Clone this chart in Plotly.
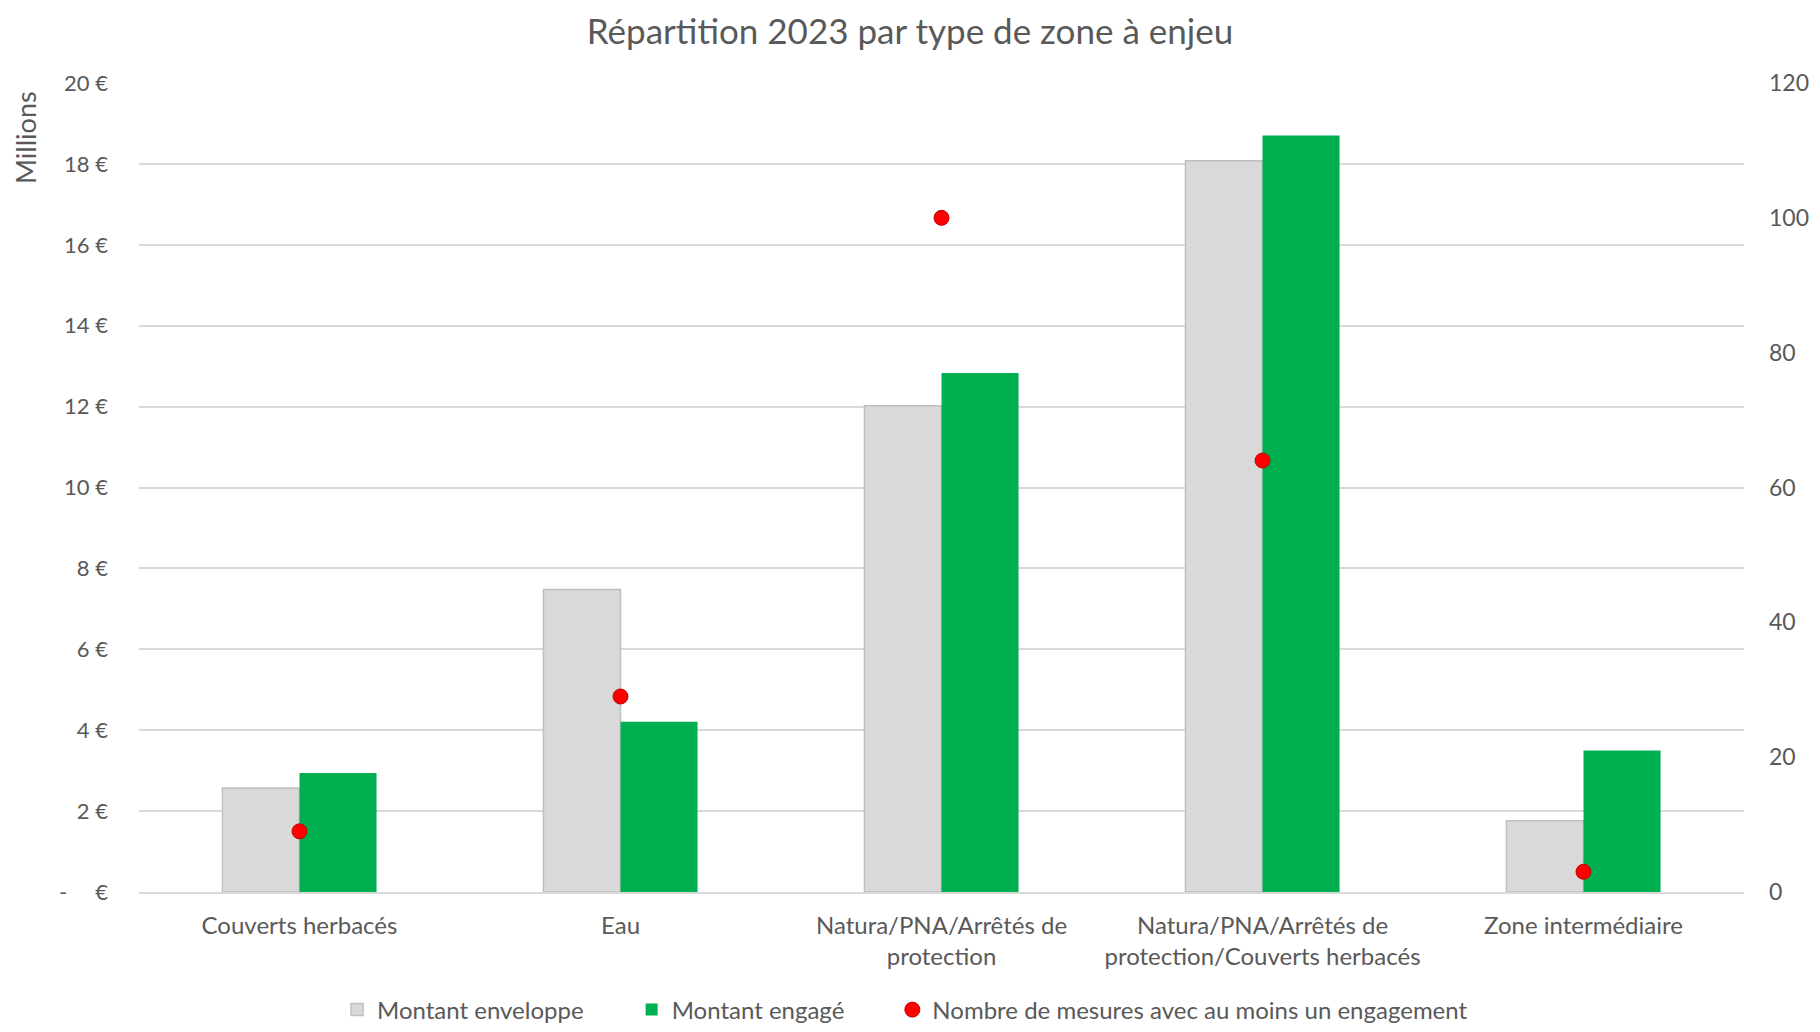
import plotly.graph_objects as go

categories = ["Couverts herbacés", "Eau", "Natura/PNA/Arrêtés de protection",
              "Natura/PNA/Arrêtés de protection/Couverts herbacés", "Zone intermédiaire"]
category_labels = ["Couverts herbacés", "Eau", "Natura/PNA/Arrêtés de<br>protection",
                   "Natura/PNA/Arrêtés de<br>protection/Couverts herbacés", "Zone intermédiaire"]
montant_enveloppe = [2.57, 7.48, 12.02, 18.08, 1.76]   # millions €
montant_engage = [2.94, 4.21, 12.83, 18.70, 3.50]      # millions €
nombre_mesures = [9, 29, 100, 64, 3]
series_names = ["Montant enveloppe", "Montant engagé",
                "Nombre de mesures avec au moins un engagement"]

left_tickvals = [0, 2, 4, 6, 8, 10, 12, 14, 16, 18, 20]
left_ticktext = ["-\u00a0\u00a0\u00a0\u00a0 €"] + [f"{v} €" for v in left_tickvals[1:]]
right_tickvals = [0, 20, 40, 60, 80, 100, 120]

FONT = "Lato"
TXT = "#595959"
OFF = 8  # default page body margin
W, H = 1820 - 2 * OFF, 1032 - 2 * OFF
ML, MT = 139 - OFF, 83 - OFF
MR = W - (1744 - OFF)
MB = H - (892 - OFF)
PAD = "\u00a0" * 7

fig = go.Figure()
fig.add_trace(go.Bar(
    x=categories, y=montant_enveloppe, name=series_names[0] + PAD,
    marker=dict(color="#D9D9D9", line=dict(color="#BFBFBF", width=1.5)),
))
fig.add_trace(go.Bar(
    x=categories, y=montant_engage, name=series_names[1] + PAD,
    marker=dict(color="#00B050", line=dict(color="#00B050", width=0)),
))
fig.add_trace(go.Scatter(
    x=categories, y=nombre_mesures, name=series_names[2],
    mode="markers", yaxis="y2",
    marker=dict(color="#FF0000", size=15, line=dict(color="#C00000", width=1)),
))

fig.update_layout(
    width=W, height=H,
    paper_bgcolor="white", plot_bgcolor="white",
    font=dict(family=FONT, color=TXT, size=23),
    title=dict(text="Répartition 2023 par type de zone à enjeu", x=(910 - OFF) / W, xanchor="center",
               y=1 - (32 - OFF) / H, yanchor="middle", font=dict(size=35, color=TXT, family=FONT)),
    barmode="group", bargap=0.52, bargroupgap=0,
    margin=dict(l=ML, r=MR, t=MT, b=MB, autoexpand=False),
    xaxis=dict(tickvals=categories, ticktext=category_labels, showgrid=False, automargin=False,
               showline=True, linecolor="#D9D9D9", linewidth=2, ticks="",
               ticklabelstandoff=11, tickfont=dict(size=24, color=TXT)),
    yaxis=dict(range=[0, 20], tickvals=left_tickvals, ticktext=left_ticktext, automargin=False,
               showgrid=True, gridcolor="#D9D9D9", gridwidth=1.5,
               zeroline=False, showline=False, ticklabelstandoff=30,
               tickfont=dict(size=22, color=TXT)),
    yaxis2=dict(range=[0, 120], tickvals=right_tickvals, overlaying="y", side="right",
                automargin=False, showgrid=False, zeroline=False, showline=False,
                ticklabelstandoff=24, tickfont=dict(size=23, color=TXT)),
    legend=dict(orientation="h", x=(905 - OFF) / W, xanchor="center", xref="container",
                y=(1032 - 1010 - OFF) / H, yanchor="middle", yref="container",
                font=dict(size=24, color=TXT), traceorder="normal"),
    annotations=[dict(text="Millions", textangle=-90,
                      x=(26 - 139) / (1744 - 139), y=(892 - 138) / (892 - 83),
                      xref="paper", yref="paper", xanchor="center", yanchor="middle",
                      showarrow=False, font=dict(size=27, color=TXT))],
)

fig.write_html("out.html")
